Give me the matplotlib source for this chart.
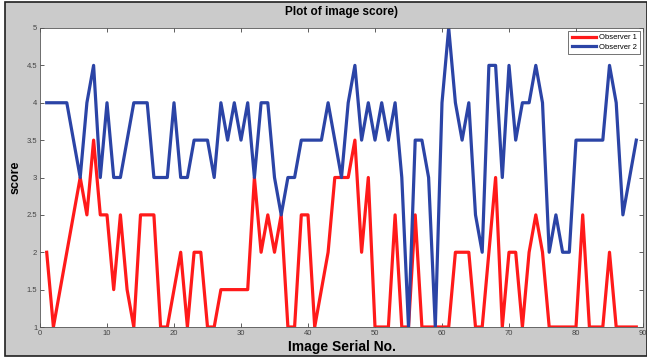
import matplotlib
matplotlib.use("Agg")
import matplotlib.pyplot as plt
from matplotlib.patches import Rectangle

plt.rcParams["font.family"] = ["Liberation Sans", "DejaVu Sans"]

image_no = list(range(1, 90))

observer_1 = [
    2, 1, 1.5, 2, 2.5, 3, 2.5, 3.5, 2.5, 2.5,
    1.5, 2.5, 1.5, 1, 2.5, 2.5, 2.5, 1, 1, 1.5,
    2, 1, 2, 2, 1, 1, 1.5, 1.5, 1.5, 1.5,
    1.5, 3, 2, 2.5, 2, 2.5, 1, 1, 2.5, 2.5,
    1, 1.5, 2, 3, 3, 3, 3.5, 2, 3, 1,
    1, 1, 2.5, 1, 1, 2.5, 1, 1, 1, 1,
    1, 2, 2, 2, 1, 1, 2, 3, 1, 2,
    2, 1, 2, 2.5, 2, 1, 1, 1, 1, 1,
    2.5, 1, 1, 1, 2, 1, 1, 1, 1,
]

observer_2 = [
    4, 4, 4, 4, 3.5, 3, 4, 4.5, 3, 4,
    3, 3, 3.5, 4, 4, 4, 3, 3, 3, 4,
    3, 3, 3.5, 3.5, 3.5, 3, 4, 3.5, 4, 3.5,
    4, 3, 4, 4, 3, 2.5, 3, 3, 3.5, 3.5,
    3.5, 3.5, 4, 3.5, 3, 4, 4.5, 3.5, 4, 3.5,
    4, 3.5, 4, 3, 1, 3.5, 3.5, 3, 1, 4,
    5, 4, 3.5, 4, 2.5, 2, 4.5, 4.5, 3, 4.5,
    3.5, 4, 4, 4.5, 4, 2, 2.5, 2, 2, 3.5,
    3.5, 3.5, 3.5, 3.5, 4.5, 4, 2.5, 3, 3.5,
]

x_ticks = list(range(0, 91, 10))
y_ticks = [1, 1.5, 2, 2.5, 3, 3.5, 4, 4.5, 5]
y_tick_labels = ["1", "1.5", "2", "2.5", "3", "3.5", "4", "4.5", "5"]

W, H = 647, 358
fig = plt.figure(figsize=(W / 100, H / 100), dpi=100, facecolor="white")

# grey MATLAB-style figure panel with a dark frame, kept behind the axes
panel = Rectangle((5 / W, 2 / H), 642 / W, 354 / H, transform=fig.transFigure,
                  facecolor="#cbcbcb", edgecolor="#202020", linewidth=1.2, zorder=-10)
fig.add_artist(panel)

ax = fig.add_axes([40 / W, 31 / H, 603 / W, 299 / H], zorder=5)
ax.plot(image_no, observer_1, color="#ff1a1a", linewidth=2.3, label="Observer 1")
ax.plot(image_no, observer_2, color="#2b44a6", linewidth=2.3, label="Observer 2")

ax.set_xlim(0, 90)
ax.set_ylim(1, 5)
ax.set_xticks(x_ticks)
ax.set_yticks(y_ticks, y_tick_labels)
ax.tick_params(direction="in", length=3, width=0.6, labelsize=5.5, colors="#444444",
               top=True, right=True, pad=2)
for s in ax.spines.values():
    s.set_color("#555555")
    s.set_linewidth(0.6)

ax.set_title("Plot of image score)", fontsize=8.5, fontweight="bold", pad=9)
ax.set_xlabel("Image Serial No.", fontsize=10, fontweight="bold", labelpad=2)
ax.set_ylabel("score", fontsize=9, fontweight="bold", labelpad=4)

leg = ax.legend(loc="upper right", fontsize=5.5, frameon=True, fancybox=False,
                borderpad=0.4, handlelength=3.2, labelspacing=0.3, borderaxespad=0.4,
                handletextpad=0.4)
leg.get_frame().set_edgecolor("#333333")
leg.get_frame().set_linewidth(0.6)

fig.savefig("out.png", dpi=100)
